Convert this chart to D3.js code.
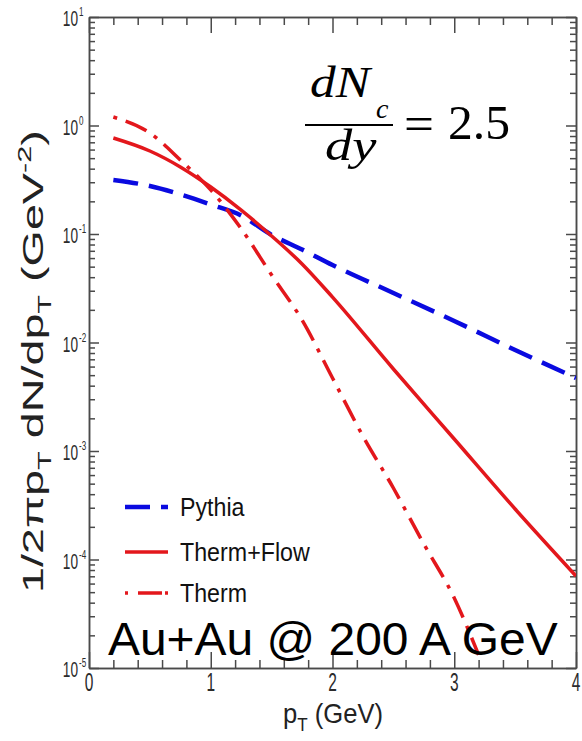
<!DOCTYPE html>
<html><head><meta charset="utf-8">
<script src="https://cdn.jsdelivr.net/npm/d3@7"></script>
<style>html,body{margin:0;padding:0;background:#fff;}svg{display:block;}</style>
</head><body>
<svg id="chart" width="582" height="741"></svg>
<script>
// ---- data ----
const pT = [0.2, 0.5, 0.75, 1.0, 1.25, 1.5, 1.75, 2.0, 2.5, 3.0, 3.5, 4.0];
const pythia = [0.315, 0.277, 0.232, 0.187, 0.148, 0.098, 0.072, 0.0518, 0.0286, 0.0158, 0.00853, 0.00471];
const thermFlow = [0.767, 0.582, 0.415, 0.271, 0.166, 0.0959, 0.0530, 0.0262, 0.00570, 0.00129, 0.000292, 0.0000705];
const pTTherm = [0.2, 0.5, 0.75, 1.0, 1.25, 1.5, 1.75, 2.0, 2.25, 2.5, 2.75, 3.0, 3.2];
const therm = [1.197, 0.853, 0.481, 0.255, 0.112, 0.0419, 0.0161, 0.00471, 0.00137, 0.000456, 0.000139, 0.0000442, 0.0000132];
const xMajorTicks = [0, 1, 2, 3, 4];
const yExponents = [1, 0, -1, -2, -3, -4, -5];
const legendLabels = ["Pythia", "Therm+Flow", "Therm"];

const svg = d3.select("#chart");
const L = 89, R = 576, T = 17, B = 668;
const x = d3.scaleLinear([0, 4], [L, R]);
const y = d3.scaleLog([1e-5, 10], [B, T]);

const axisColor = "#4a4a4a";
const xMinor = d3.range(0, 4.001, 0.2).map(v => +v.toFixed(1)).filter(v => !xMajorTicks.includes(v));
const yMajor = yExponents.map(e => Math.pow(10, e));
const yMinor = [];
for (let e = -5; e < 1; e++) for (let m = 2; m <= 9; m++) yMinor.push(m * Math.pow(10, e));

function styleAxis(g) {
  g.selectAll("path,line").attr("stroke", axisColor).attr("stroke-width", 1.5);
  g.selectAll("text").remove();
}
// bottom/top
svg.append("g").attr("transform", `translate(0,${B})`).call(d3.axisBottom(x).tickValues(xMajorTicks).tickSize(-16).tickSizeOuter(0)).call(styleAxis);
svg.append("g").attr("transform", `translate(0,${B})`).call(d3.axisBottom(x).tickValues(xMinor).tickSize(-8).tickSizeOuter(0)).call(styleAxis);
svg.append("g").attr("transform", `translate(0,${T})`).call(d3.axisTop(x).tickValues(xMajorTicks).tickSize(-16).tickSizeOuter(0)).call(styleAxis);
svg.append("g").attr("transform", `translate(0,${T})`).call(d3.axisTop(x).tickValues(xMinor).tickSize(-8).tickSizeOuter(0)).call(styleAxis);
// left/right
svg.append("g").attr("transform", `translate(${L},0)`).call(d3.axisLeft(y).tickValues(yMajor).tickSize(-10).tickSizeOuter(0)).call(styleAxis);
svg.append("g").attr("transform", `translate(${L},0)`).call(d3.axisLeft(y).tickValues(yMinor).tickSize(-6).tickSizeOuter(0)).call(styleAxis);
svg.append("g").attr("transform", `translate(${R},0)`).call(d3.axisRight(y).tickValues(yMajor).tickSize(-10).tickSizeOuter(0)).call(styleAxis);
svg.append("g").attr("transform", `translate(${R},0)`).call(d3.axisRight(y).tickValues(yMinor).tickSize(-6).tickSizeOuter(0)).call(styleAxis);

const labelColor = "#2b2b2b";
const sans = "'Liberation Sans', Arial, Helvetica, sans-serif";
// y tick labels
yExponents.forEach(e => {
  const ty = y(Math.pow(10, e));
  svg.append("text").attr("transform", `translate(78,${ty + 9}) scale(0.62,1)`)
    .attr("text-anchor", "end").attr("font-family", sans).attr("font-size", 22).attr("fill", labelColor).text("10");
  svg.append("text").attr("transform", `translate(79,${ty - 1}) scale(0.62,1)`)
    .attr("text-anchor", "start").attr("font-family", sans).attr("font-size", 13).attr("fill", labelColor).text(String(e));
});
// x tick labels
xMajorTicks.forEach(v => {
  svg.append("text").attr("transform", `translate(${x(v)},691) scale(0.62,1)`)
    .attr("text-anchor", "middle").attr("font-family", sans).attr("font-size", 25).attr("fill", labelColor).text(v);
});

function fit(sel, w, tx, ty, rot) {
  const bw = sel.node().getBBox().width;
  const s = w / bw;
  sel.attr("transform", `translate(${tx},${ty})` + (rot ? ` rotate(${rot})` : "") + ` scale(${s},1)`);
  return sel;
}

// x title
const xt = svg.append("text").attr("font-family", sans).attr("font-size", 27).attr("fill", "#222");
xt.append("tspan").text("p");
xt.append("tspan").attr("font-size", 18).attr("dy", 8).text("T");
xt.append("tspan").attr("dy", -8).text(" (GeV)");
fit(xt, 100, 283, 723);

// y title
const yt = svg.append("text").attr("font-family", sans).attr("font-size", 29).attr("fill", "#222");
yt.append("tspan").text("1/2πp");
yt.append("tspan").attr("font-size", 19).attr("dy", 8).text("T");
yt.append("tspan").attr("dy", -8).text(" dN/dp");
yt.append("tspan").attr("font-size", 19).attr("dy", 8).text("T");
yt.append("tspan").attr("dy", -8).text("  (GeV");
yt.append("tspan").attr("font-size", 19).attr("dy", -12).text("-2");
yt.append("tspan").attr("dy", 12).text(")");
fit(yt, 463, 43, 593, -90);

// curves
const red = "#e3171c", blue = "#0a0ae0";
const clip = svg.append("clipPath").attr("id", "plotclip").append("rect")
  .attr("x", L).attr("y", T).attr("width", R - L).attr("height", B - T);
const line = d3.line().x(d => x(d[0])).y(d => y(d[1])).curve(d3.curveMonotoneX);
const plot = svg.append("g").attr("clip-path", "url(#plotclip)");
plot.append("path").datum(d3.zip(pT, pythia)).attr("d", line)
  .attr("fill", "none").attr("stroke", blue).attr("stroke-width", 4.5).attr("stroke-dasharray", "25,11");
plot.append("path").datum(d3.zip(pT, thermFlow)).attr("d", line)
  .attr("fill", "none").attr("stroke", red).attr("stroke-width", 3.5);
plot.append("path").datum(d3.zip(pTTherm, therm)).attr("d", line)
  .attr("fill", "none").attr("stroke", red).attr("stroke-width", 3.5).attr("stroke-dasharray", "4,9,23,9");

// legend
const legY = [507, 552, 593];
const legDash = ["25,11", null, "3,10,24,3,3"];
const legColor = [blue, red, red];
const legW = [4.5, 3.5, 3.5];
const legTextW = [65, 130, 67];
legendLabels.forEach((lab, i) => {
  const ln = svg.append("line").attr("x1", 125).attr("x2", 168).attr("y1", legY[i]).attr("y2", legY[i])
    .attr("stroke", legColor[i]).attr("stroke-width", legW[i]);
  if (legDash[i]) ln.attr("stroke-dasharray", legDash[i]);
  const t = svg.append("text").attr("font-family", sans).attr("font-size", 26).attr("fill", "#111").text(lab);
  fit(t, legTextW[i], 180, legY[i] + 9);
});

// formula
const serif = "'Liberation Serif', 'DejaVu Serif', 'Times New Roman', serif";
const f1 = svg.append("text").attr("font-family", serif).attr("font-style", "italic").attr("font-size", 44).attr("fill", "#000").text("dN");
fit(f1, 63, 310, 97);
svg.append("text").attr("x", 376).attr("y", 118).attr("font-family", serif).attr("font-style", "italic").attr("font-size", 28).attr("fill", "#000").text("c");
svg.append("line").attr("x1", 305).attr("x2", 393).attr("y1", 125).attr("y2", 125).attr("stroke", "#000").attr("stroke-width", 2.2);
const f2 = svg.append("text").attr("font-family", serif).attr("font-style", "italic").attr("font-size", 44).attr("fill", "#000").text("dy");
fit(f2, 52, 325, 160);
const eq = svg.append("text").attr("font-family", serif).attr("font-size", 48).attr("fill", "#000").text("=");
fit(eq, 30, 404, 140);
const num = svg.append("text").attr("font-family", serif).attr("font-size", 48).attr("fill", "#000").text("2.5");
fit(num, 62, 448, 139);

// Au+Au label
const au = svg.append("text").attr("font-family", sans).attr("font-size", 46).attr("fill", "#000").text("Au+Au @ 200 A GeV");
fit(au, 450, 108, 655);
</script>
</body></html>
